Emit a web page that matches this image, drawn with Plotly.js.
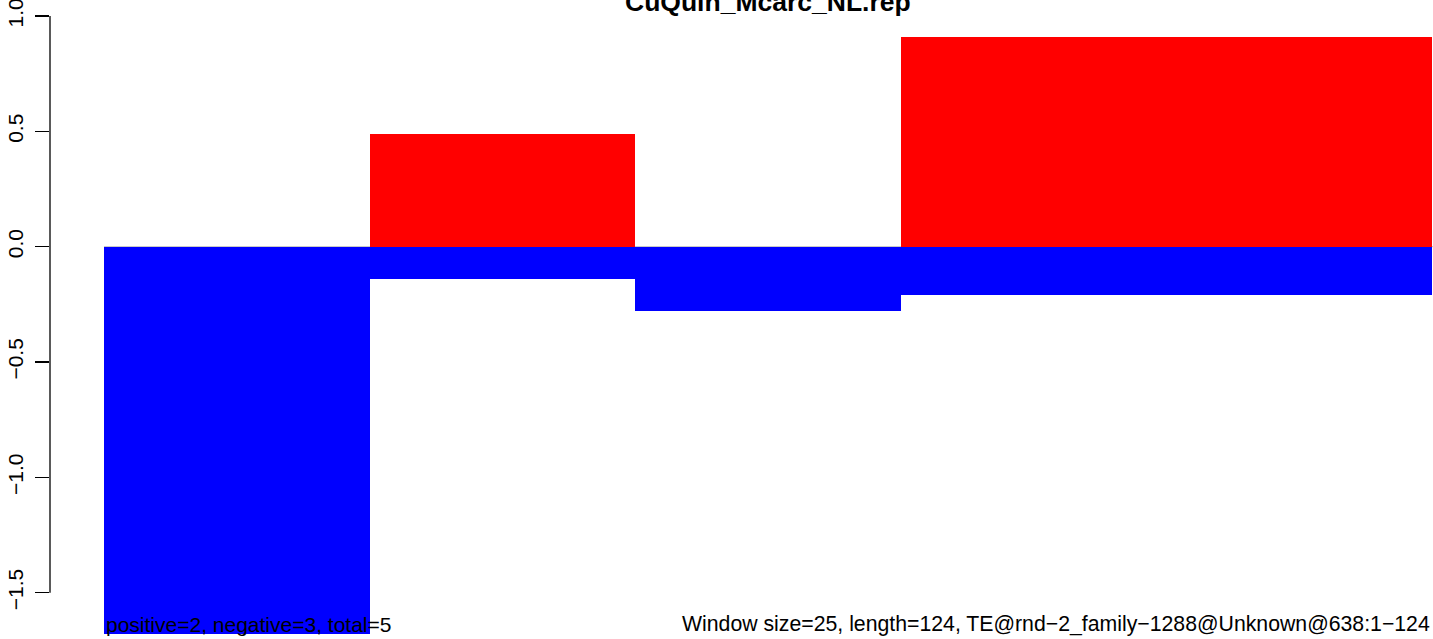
<!DOCTYPE html>
<html>
<head>
<meta charset="utf-8">
<script src="https://cdn.plot.ly/plotly-3.0.1.min.js"></script>
<style>
html,body{margin:0;padding:0;background:#fff;overflow:hidden;}
#chart{width:1433px;height:639px;}
</style>
</head>
<body>
<div id="chart"></div>
<script>
// Window data (sequence coordinates), window size 25, length 124
const windowStart = [0, 25, 50, 75, 100];
const windowSize = 25;
const positiveValues = [0, 0.49, 0, 0.91, 0.91];
const negativeValues = [-1.68, -0.14, -0.28, -0.21, -0.21];
const yTickValues = [-1.5, -1.0, -0.5, 0.0, 0.5, 1.0];
const chartTitle = "CuQuin_Mcarc_NL.rep";
const leftNote = "positive=2, negative=3, total=5";
const rightNote = "Window size=25, length=124, TE@rnd\u22122_family\u22121288@Unknown@638:1\u2212124";

const xCenters = windowStart.map(s => s + windowSize / 2);
const FONT = "Liberation Sans, Arial, Helvetica, sans-serif";

const traces = [
  {
    type: 'bar', x: xCenters, y: positiveValues, base: 0,
    width: windowStart.map(() => windowSize),
    marker: {color: '#FF0000', line: {width: 0}},
    hoverinfo: 'skip', showlegend: false
  },
  {
    type: 'bar', x: xCenters, y: negativeValues, base: 0,
    width: windowStart.map(() => windowSize),
    marker: {color: '#0000FF', line: {width: 0}},
    hoverinfo: 'skip', showlegend: false
  }
];

const xEnd = windowStart[windowStart.length - 1] + windowSize;
const pxPerUnit = 1328 / xEnd;
const xMin = -54 / pxPerUnit;
const xMax = xEnd + 1 / pxPerUnit;

const layout = {
  width: 1433, height: 639,
  margin: {l: 50, r: 0, t: 0, b: 0, pad: 0},
  paper_bgcolor: '#ffffff', plot_bgcolor: '#ffffff',
  barmode: 'overlay',
  bargap: 0,
  font: {family: FONT, size: 20, color: '#000000'},
  xaxis: {
    range: [xMin, xMax], showgrid: false, zeroline: false,
    showline: false, showticklabels: false, ticks: ''
  },
  yaxis: {
    range: [-1.70071, 1.06936], showgrid: false, zeroline: false,
    showline: false, ticks: 'outside', ticklen: 14, tickwidth: 1.3,
    tickcolor: '#000000', tickvals: yTickValues, tickformat: '.1f',
    tickangle: -90, tickfont: {family: FONT, size: 21, color: '#000000'},
    ticklabelstandoff: 4, ticklabeloverflow: 'allow'
  },
  shapes: [
    {type: 'line', xref: 'paper', yref: 'y', x0: 0, x1: 0,
     y0: yTickValues[0], y1: yTickValues[yTickValues.length - 1],
     line: {color: '#000000', width: 1.3}},
    {type: 'line', xref: 'x', yref: 'y', x0: 0, x1: xMax, y0: 0, y1: 0,
     layer: 'below', line: {color: '#BEBEBE', width: 1}}
  ],
  annotations: [
    {text: '<b>' + chartTitle + '</b>', xref: 'paper', yref: 'paper',
     x: (767.5 - 50) / 1383, y: 1, xanchor: 'center', yanchor: 'middle',
     yshift: -2, showarrow: false,
     font: {family: FONT, size: 26.5, color: '#000000'}},
    {text: leftNote, xref: 'x', yref: 'paper', x: 0, y: 0,
     xanchor: 'left', yanchor: 'middle', yshift: 15, showarrow: false,
     font: {family: FONT, size: 21, color: '#000000'}},
    {text: rightNote, xref: 'x', yref: 'paper', x: xEnd, y: 0,
     xanchor: 'right', yanchor: 'middle', yshift: 15, showarrow: false,
     font: {family: FONT, size: 21.25, color: '#000000'}}
  ]
};

Plotly.newPlot('chart', traces, layout, {staticPlot: true, displayModeBar: false});
</script>
</body>
</html>
